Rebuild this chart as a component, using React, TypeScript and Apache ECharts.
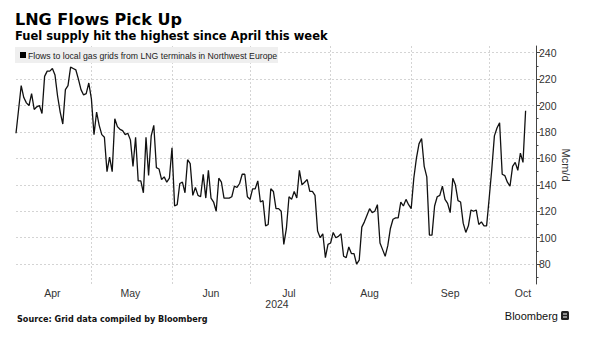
import React, { useEffect, useRef } from "react";
import * as echarts from "echarts";

const baseDate = "2024-04-01";
const startDate = "2024-04-02";
const axisStart = "2024-04-02";
const axisEnd = "2024-10-19";

const flows = [
  179, 197, 215, 206, 202, 200, 209, 197, 199, 200,
  194, 222, 226, 226, 228, 223, 207, 195, 186, 212,
  215, 229, 228, 227, 220, 212, 208, 209, 217, 205,
  178, 195, 185, 178, 176, 150, 161, 150, 190, 184,
  182, 181, 178, 179, 174, 154, 176, 143, 143, 134,
  176, 147, 177, 185, 153, 152, 144, 146, 142, 145,
  168, 124, 125, 141, 142, 134, 159, 156, 132, 138,
  132, 131, 148, 130, 151, 130, 127, 120, 145, 142,
  130, 130, 130, 131, 139, 138, 141, 148, 148, 131,
  129, 137, 137, 143, 127, 128, 109, 110, 137, 135,
  122, 122, 120, 95, 107, 131, 129, 135, 130, 151,
  140, 142, 144, 135, 135, 132, 105, 100, 103, 85,
  95, 96, 104, 100, 101, 103, 86, 85, 93, 88,
  88, 80, 83, 108, 112, 117, 122, 119, 120, 125,
  96, 91, 86, 94, 107, 114, 115, 115, 127, 124,
  129, 125, 122, 145, 160, 171, 175, 154, 146, 102,
  102, 124, 131, 132, 139, 129, 126, 119, 145, 140,
  128, 127, 111, 104, 109, 121, 120, 121, 110, 112,
  109, 109, 130, 152, 177, 183, 187, 148, 147, 142,
  139, 154, 157, 151, 164, 157, 196,
];

const monthStarts = ["2024-05-01", "2024-06-01", "2024-07-01", "2024-08-01", "2024-09-01", "2024-10-01"];
const monthLabelDates = ["2024-04-16", "2024-05-16", "2024-06-16", "2024-07-16", "2024-08-16", "2024-09-16", "2024-10-14"];
const monthLabels = ["Apr", "May", "Jun", "Jul", "Aug", "Sep", "Oct"];
const yTicks = [80, 100, 120, 140, 160, 180, 200, 220, 240];
const yMinorTicks = [70, 90, 110, 130, 150, 170, 190, 210, 230];
const yMin = 65;
const yMax = 245;

const DAY = 86400000;
const dayNum = (s: string) =>
  Math.round((new Date(s + "T00:00:00Z").getTime() - new Date(baseDate + "T00:00:00Z").getTime()) / DAY);

export default function App() {
  const ref = useRef<HTMLDivElement>(null);
  useEffect(() => {
    if (!ref.current) return;
    const chart = echarts.init(ref.current, undefined, { renderer: "svg" });
    const d0 = dayNum(startDate);
    const data = flows.map((v, i) => [d0 + i, v]);
    const labelDays = monthLabelDates.map(dayNum);
    const font = "Liberation Sans";
    const heavy = "DejaVu Sans";
    const grid = "#d4d4d4";
    chart.setOption({
      animation: false,
      backgroundColor: "#ffffff",
      textStyle: { fontFamily: font },
      title: [
        {
          text: "LNG Flows Pick Up",
          left: 15,
          top: 11,
          padding: 0,
          textStyle: { fontFamily: heavy, fontSize: 16, fontWeight: "bold", color: "#000" },
        },
        {
          text: "Fuel supply hit the highest since April this week",
          left: 15,
          top: 29.5,
          padding: 0,
          textStyle: { fontFamily: heavy, fontSize: 11.5, fontWeight: "bold", color: "#000" },
        },
      ],
      grid: { left: 16, right: 64, top: 46, bottom: 59, containLabel: false },
      xAxis: {
        type: "value",
        min: dayNum(axisStart),
        max: dayNum(axisEnd),
        axisLine: { show: false },
        axisTick: { show: false },
        splitLine: { show: false },
        axisLabel: {
          customValues: labelDays,
          formatter: (v: number) => {
            const i = labelDays.indexOf(v);
            return i >= 0 ? monthLabels[i] : "";
          },
          fontFamily: font,
          fontSize: 10.5,
          color: "#333",
          margin: 3,
          showMinLabel: true,
          showMaxLabel: true,
        },
      },
      yAxis: [
        {
          type: "value",
          position: "right",
          min: yMin,
          max: yMax,
          axisLine: { show: true, lineStyle: { color: "#444", width: 1 } },
          axisTick: { show: true, customValues: yTicks, length: 4, lineStyle: { color: "#444" } },
          axisLabel: {
            customValues: yTicks,
            fontFamily: font,
            fontSize: 10.5,
            color: "#333",
            margin: 3,
          },
          splitLine: { show: false },
          name: "Mcm/d",
          nameLocation: "middle",
          nameRotate: -90,
          nameGap: 24,
          nameMoveOverlap: false,
          nameTextStyle: { fontFamily: font, fontSize: 11, color: "#333" },
        },
        {
          type: "value",
          position: "right",
          min: yMin,
          max: yMax,
          axisLine: { show: false },
          axisTick: { show: true, customValues: yMinorTicks, length: 2.5, lineStyle: { color: "#444" } },
          axisLabel: { show: false },
          splitLine: { show: false },
        },
      ],
      series: [
        {
          name: "Flows to local gas grids from LNG terminals in Northwest Europe",
          type: "line",
          yAxisIndex: 0,
          data,
          showSymbol: false,
          symbol: "none",
          lineStyle: { color: "#111", width: 1.3 },
          z: 5,
          markLine: {
            silent: true,
            symbol: ["none", "none"],
            label: { show: false },
            lineStyle: { color: grid, type: [2, 2], width: 1 },
            data: [
              ...yTicks.map((v) => ({ yAxis: v })),
              ...monthStarts.map((d) => ({ xAxis: dayNum(d) })),
            ],
            z: 1,
          },
        },
      ],
      graphic: [
        { type: "rect", z: 20, shape: { x: 15, y: 47, width: 263, height: 16 }, style: { fill: "#efefef" } },
        { type: "rect", z: 21, shape: { x: 20, y: 52, width: 6, height: 6 }, style: { fill: "#000" } },
        {
          type: "text",
          z: 21,
          x: 28,
          y: 55.5,
          style: {
            text: "Flows to local gas grids from LNG terminals in Northwest Europe",
            fontFamily: font,
            fontSize: 8.7,
            fill: "#222",
            verticalAlign: "middle",
          },
        },
        {
          type: "text",
          x: 277,
          y: 304,
          style: { text: "2024", fontFamily: font, fontSize: 10.5, fill: "#333", align: "center", verticalAlign: "middle" },
        },
        {
          type: "text",
          x: 17,
          y: 319,
          style: {
            text: "Source: Grid data compiled by Bloomberg",
            fontFamily: heavy,
            fontSize: 8.1,
            fontWeight: "bold",
            fill: "#111",
            verticalAlign: "middle",
          },
        },
        {
          type: "text",
          x: 558,
          y: 316,
          style: { text: "Bloomberg", fontFamily: font, fontSize: 11, fill: "#111", align: "right", verticalAlign: "middle" },
        },
        { type: "rect", shape: { x: 561, y: 311, width: 8, height: 9, r: 1.5 }, style: { fill: "#222" } },
        { type: "line", shape: { x1: 563, y1: 314, x2: 567, y2: 314 }, style: { stroke: "#fff", lineWidth: 1 } },
        { type: "line", shape: { x1: 563, y1: 317, x2: 567, y2: 317 }, style: { stroke: "#fff", lineWidth: 1 } },
      ],
    });
    return () => chart.dispose();
  }, []);
  return (
    <div
      ref={ref}
      style={{ position: "fixed", left: 0, top: 0, width: 600, height: 343, background: "#fff" }}
    />
  );
}
